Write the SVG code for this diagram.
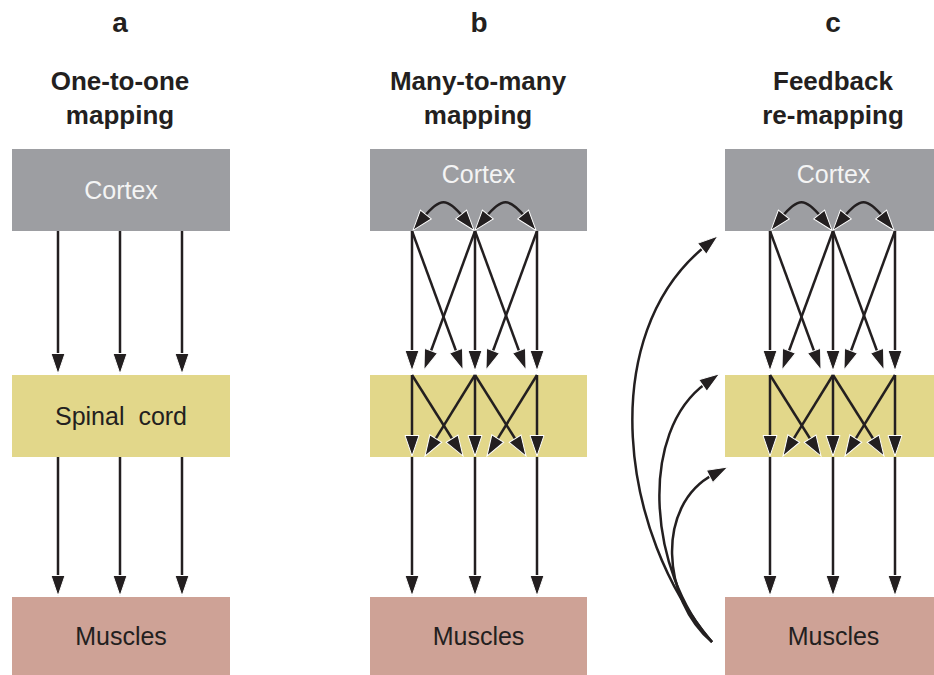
<svg xmlns="http://www.w3.org/2000/svg" width="934" height="675" viewBox="0 0 934 675">
<style>
.panel{font-family:"Liberation Sans",Arial,Helvetica,sans-serif;font-weight:bold;fill:#231f20;text-anchor:middle}
.lbl{font-size:28px}
.ttl{font-size:26px}
.box-text{font-family:"Liberation Sans",Arial,Helvetica,sans-serif;font-size:25px;text-anchor:middle;fill:#231f20}
.cortex{fill:#9d9ea2}
.cortex-text{fill:#f4f4f4}
.spinal{fill:#e2d78a}
.muscles{fill:#cea296}
.conn path{fill:none;stroke:#231f20;stroke-width:2.5;marker-end:url(#ah)}
.conn path.dbl{marker-start:url(#ah)}
</style>
<defs>
<marker id="ah" markerUnits="userSpaceOnUse" markerWidth="30" markerHeight="20" viewBox="-6 -10 30 20" refX="0" refY="0" orient="auto-start-reverse" overflow="visible">
<path d="M16,0 L-4.5,-7 L-4.5,7 Z" fill="#231f20" stroke="#ffffff" stroke-width="1"/>
</marker>
</defs>
<rect width="934" height="675" fill="#ffffff"/>

<!-- Panel headings -->
<g id="heading-a" class="panel">
<text class="lbl" x="120" y="32">a</text>
<text class="ttl" x="120" y="90">One-to-one</text>
<text class="ttl" x="120" y="124">mapping</text>
</g>
<g id="heading-b" class="panel">
<text class="lbl" x="479" y="32">b</text>
<text class="ttl" x="478" y="90">Many-to-many</text>
<text class="ttl" x="478" y="124">mapping</text>
</g>
<g id="heading-c" class="panel">
<text class="lbl" x="833" y="32">c</text>
<text class="ttl" x="833" y="90">Feedback</text>
<text class="ttl" x="833" y="124">re-mapping</text>
</g>

<!-- Panel a nodes -->
<g id="a-cortex"><rect class="cortex" x="12" y="149" width="218" height="82"/><text class="box-text cortex-text" x="121" y="199">Cortex</text></g>
<g id="a-spinal"><rect class="spinal" x="12" y="375" width="218" height="82"/><text class="box-text" x="121" y="425" word-spacing="7">Spinal cord</text></g>
<g id="a-muscles"><rect class="muscles" x="12" y="597" width="218" height="78"/><text class="box-text" x="121" y="645">Muscles</text></g>

<!-- Panel b nodes -->
<g id="b-cortex"><rect class="cortex" x="370" y="149" width="217" height="82"/><text class="box-text cortex-text" x="478.5" y="183">Cortex</text></g>
<g id="b-spinal"><rect class="spinal" x="370" y="375" width="217" height="82"/></g>
<g id="b-muscles"><rect class="muscles" x="370" y="597" width="217" height="78"/><text class="box-text" x="478.5" y="645">Muscles</text></g>

<!-- Panel c nodes -->
<g id="c-cortex"><rect class="cortex" x="725" y="149" width="217" height="82"/><text class="box-text cortex-text" x="833.5" y="183">Cortex</text></g>
<g id="c-spinal"><rect class="spinal" x="725" y="375" width="217" height="82"/></g>
<g id="c-muscles"><rect class="muscles" x="725" y="597" width="217" height="78"/><text class="box-text" x="833.5" y="645">Muscles</text></g>

<!-- Connectors -->
<g id="connectors" class="conn">
<!-- a -->
<path d="M58,231 V358"/><path d="M120,231 V358"/><path d="M182,231 V358"/>
<path d="M58,457 V580"/><path d="M120,457 V580"/><path d="M182,457 V580"/>

<!-- b cortex arcs -->
<path class="dbl" d="M423,218 C440,197 447,197 464,218"/>
<path class="dbl" d="M485,218 C502,197 509,197 526,218"/>
<!-- b cortex to spinal -->
<path d="M412,231 V355"/><path d="M475,231 V355"/><path d="M537,231 V355"/>
<path d="M412,231 L457.5,355"/><path d="M475,231 L429.5,355"/>
<path d="M475,231 L520.5,355"/><path d="M537,231 L491.5,355"/>
<!-- b within spinal -->
<path d="M412,375 V440"/><path d="M475,375 V440"/><path d="M537,375 V440"/>
<path d="M412,375 L454.5,442.5"/><path d="M475,375 L433.4,442.4"/>
<path d="M475,375 L517.5,442.5"/><path d="M537,375 L495.4,442.4"/>
<!-- b spinal to muscles -->
<path d="M412,457 V580"/><path d="M475,457 V580"/><path d="M537,457 V580"/>

<!-- c cortex arcs -->
<path class="dbl" d="M781,218 C798,197 805,197 822,218"/>
<path class="dbl" d="M843,218 C860,197 867,197 884,218"/>
<!-- c cortex to spinal -->
<path d="M770,231 V355"/><path d="M833,231 V355"/><path d="M895,231 V355"/>
<path d="M770,231 L815.5,355"/><path d="M833,231 L787.5,355"/>
<path d="M833,231 L878.5,355"/><path d="M895,231 L849.5,355"/>
<!-- c within spinal -->
<path d="M770,375 V440"/><path d="M833,375 V440"/><path d="M895,375 V440"/>
<path d="M770,375 L812.5,442.5"/><path d="M833,375 L791.4,442.4"/>
<path d="M833,375 L875.5,442.5"/><path d="M895,375 L853.4,442.4"/>
<!-- c spinal to muscles -->
<path d="M770,457 V580"/><path d="M833,457 V580"/><path d="M895,457 V580"/>
<!-- c feedback -->
<path d="M712,642 C620,535 595,335 705.5,246"/>
<path d="M712,642 C648,572 638,431 706.5,383"/>
<path d="M712,642 C662,600 655,505 713.6,474.4"/>
</g>
</svg>
